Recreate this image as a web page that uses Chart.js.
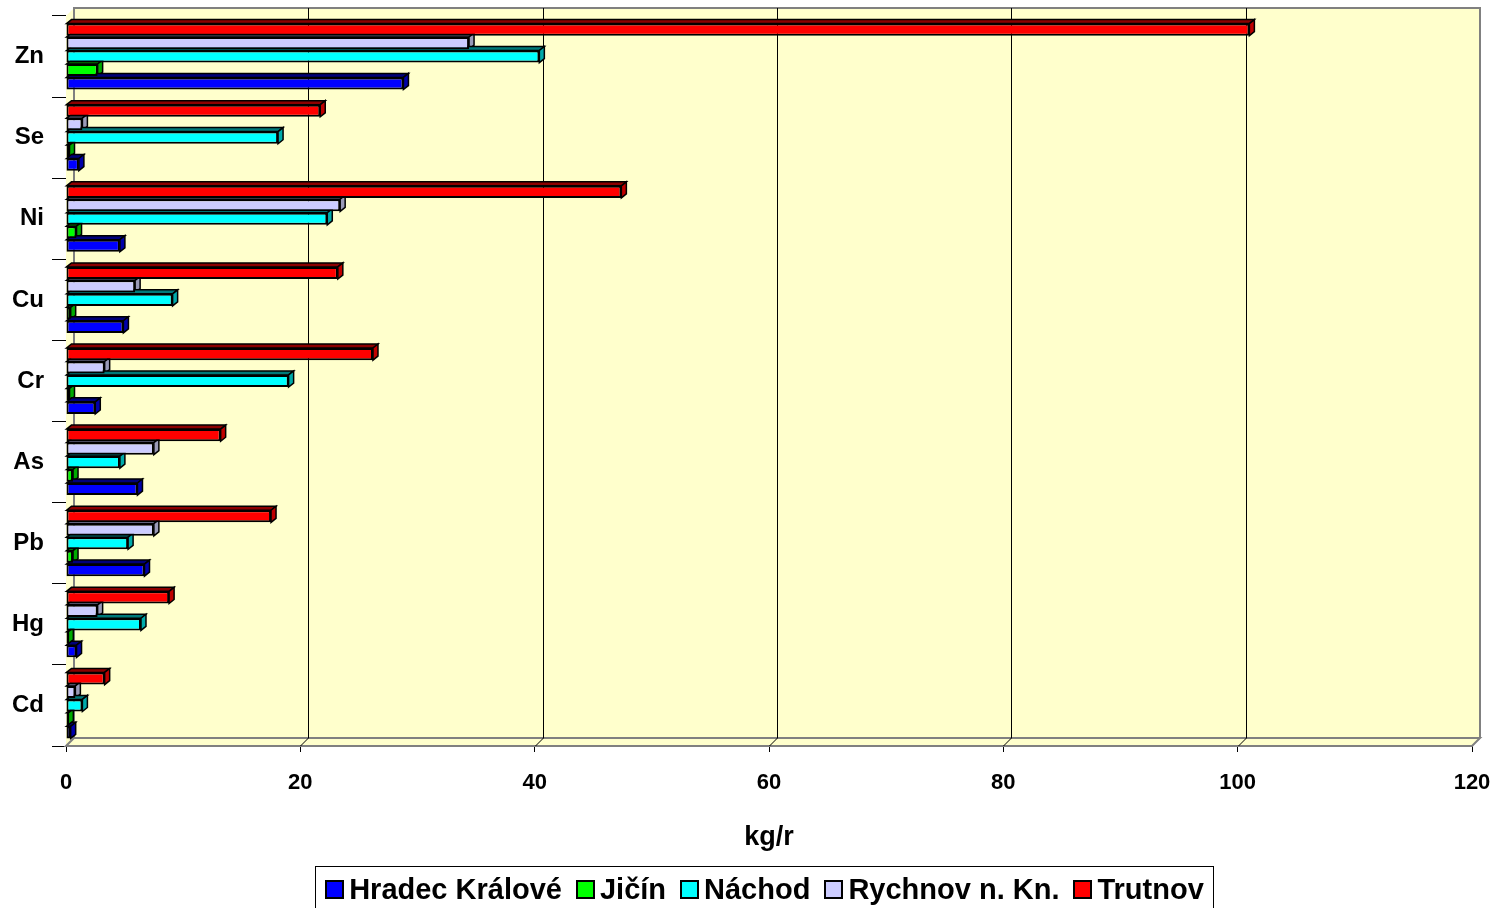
<!DOCTYPE html>
<html>
<head>
<meta charset="utf-8">
<script src="https://cdn.jsdelivr.net/npm/chart.js@4.4.1/dist/chart.umd.min.js"></script>
<style>
    html, body { margin: 0; padding: 0; background: #ffffff; }
    #wrap { position: relative; width: 1501px; height: 908px; overflow: hidden; }
    #legend {
        position: absolute; left: 315px; top: 866px; width: 899px; height: 60px;
        border: 1px solid #000; box-sizing: border-box;
        display: flex; justify-content: center; align-items: flex-start;
        padding-top: 7px;
        font-family: 'Liberation Sans', Arial, sans-serif; font-weight: bold; font-size: 29px;
        line-height: 30px; color: #000; white-space: nowrap;
    }
    #legend .item { display: flex; align-items: center; margin: 0 7px; }
    #legend .box { width: 15px; height: 15px; border: 2px solid #000; margin-right: 5px; }
</style>
</head>
<body>
<div id="wrap">
    <canvas id="metalsChart" width="1501" height="908"></canvas>
    <div id="legend"></div>
</div>
<script>
// categories top to bottom
const metals = ['Zn', 'Se', 'Ni', 'Cu', 'Cr', 'As', 'Pb', 'Hg', 'Cd'];

// kg/r per district
const hradecKralove = [28.8, 1.1, 4.6, 4.9, 2.5, 6.1, 6.7, 0.9, 0.4];
const jicin         = [2.7, 0.3, 0.9, 0.4, 0.3, 0.6, 0.6, 0.2, 0.2];
const nachod        = [40.4, 18.1, 22.3, 9.1, 19.0, 4.6, 5.3, 6.4, 1.4];
const rychnov       = [34.4, 1.4, 23.4, 5.9, 3.3, 7.5, 7.5, 2.7, 0.8];
const trutnov       = [101.0, 21.7, 47.4, 23.2, 26.2, 13.2, 17.5, 8.8, 3.3];

const xTicks = [0, 20, 40, 60, 80, 100, 120];

const FONT = "'Liberation Sans', Arial, sans-serif";
const DEPTH = 8;      // depth of the plot box
const BAR_DX = 5;     // 3d offset of each bar
const BAR_DY = 4;

// darker shades for the top and side faces of the bars
const shades = {
    '#ff0000': { top: '#8c0000', side: '#c00000' },
    '#ccccff': { top: '#6a6a88', side: '#9a9ab8' },
    '#00ffff': { top: '#007a7a', side: '#00aaaa' },
    '#00ff00': { top: '#007a00', side: '#00aa00' },
    '#0000ff': { top: '#00007a', side: '#0000aa' }
};

// yellow box with back wall, floor and gridlines
const plotBox = {
    id: 'plotBox',
    beforeDatasetsDraw(chart) {
        const { ctx, chartArea: a, scales } = chart;
        const d = DEPTH;
        ctx.save();
        ctx.fillStyle = '#ffffcc';
        ctx.strokeStyle = '#808080';
        ctx.lineWidth = 2;
        // back wall
        ctx.fillRect(a.left + d, a.top - d, a.right - a.left, a.bottom - a.top);
        // left wall
        ctx.beginPath();
        ctx.moveTo(a.left, a.top);
        ctx.lineTo(a.left + d, a.top - d);
        ctx.lineTo(a.left + d, a.bottom - d);
        ctx.lineTo(a.left, a.bottom);
        ctx.closePath();
        ctx.fill();
        // floor
        ctx.beginPath();
        ctx.moveTo(a.left, a.bottom);
        ctx.lineTo(a.left + d, a.bottom - d);
        ctx.lineTo(a.right + d, a.bottom - d);
        ctx.lineTo(a.right, a.bottom);
        ctx.closePath();
        ctx.fill();
        ctx.stroke();
        // back wall border
        ctx.beginPath();
        ctx.moveTo(a.left + d, a.bottom - d);
        ctx.lineTo(a.left + d, a.top - d);
        ctx.lineTo(a.right + d, a.top - d);
        ctx.lineTo(a.right + d, a.bottom - d);
        ctx.stroke();

        // gridlines on the back wall and floor
        ctx.strokeStyle = '#000000';
        ctx.lineWidth = 1;
        xTicks.forEach(v => {
            if (v === 0 || v === 120) return;
            const px = Math.round(scales.x.getPixelForValue(v)) + 0.5;
            ctx.beginPath();
            ctx.moveTo(px + d, a.top - d);
            ctx.lineTo(px + d, a.bottom - d);
            ctx.lineTo(px, a.bottom);
            ctx.stroke();
        });

        // 3d faces of the bars, drawn behind the front faces
        ctx.lineWidth = 1.5;
        ctx.strokeStyle = '#000000';
        chart.data.datasets.forEach((ds, i) => {
            const meta = chart.getDatasetMeta(i);
            const sh = shades[ds.backgroundColor];
            meta.data.forEach(bar => {
                const p = bar.getProps(['x', 'y', 'base', 'height'], true);
                const top = p.y - p.height / 2;
                const bottom = p.y + p.height / 2;
                // top face
                ctx.fillStyle = sh.top;
                ctx.beginPath();
                ctx.moveTo(p.base, top);
                ctx.lineTo(p.base + BAR_DX, top - BAR_DY);
                ctx.lineTo(p.x + BAR_DX, top - BAR_DY);
                ctx.lineTo(p.x, top);
                ctx.closePath();
                ctx.fill();
                ctx.stroke();
                // right face
                ctx.fillStyle = sh.side;
                ctx.beginPath();
                ctx.moveTo(p.x, top);
                ctx.lineTo(p.x + BAR_DX, top - BAR_DY);
                ctx.lineTo(p.x + BAR_DX, bottom - BAR_DY);
                ctx.lineTo(p.x, bottom);
                ctx.closePath();
                ctx.fill();
                ctx.stroke();
            });
        });
        ctx.restore();
    }
};

const ctx = document.getElementById('metalsChart').getContext('2d');
const metalsChart = new Chart(ctx, {
    type: 'bar',
    data: {
        labels: metals,
        datasets: [
            { label: 'Trutnov', data: trutnov, backgroundColor: '#ff0000' },
            { label: 'Rychnov n. Kn.', data: rychnov, backgroundColor: '#ccccff' },
            { label: 'Náchod', data: nachod, backgroundColor: '#00ffff' },
            { label: 'Jičín', data: jicin, backgroundColor: '#00ff00' },
            { label: 'Hradec Králové', data: hradecKralove, backgroundColor: '#0000ff' }
        ]
    },
    options: {
        indexAxis: 'y',
        responsive: false,
        animation: false,
        layout: {
            padding: { top: 16, right: 29, left: 0, bottom: 42 }
        },
        datasets: {
            bar: {
                borderColor: '#000000',
                borderWidth: 2,
                borderSkipped: false,
                categoryPercentage: 0.83,
                barPercentage: 0.9
            }
        },
        plugins: {
            legend: { display: false },
            tooltip: { enabled: false }
        },
        scales: {
            x: {
                type: 'linear',
                min: 0,
                max: 120,
                ticks: {
                    stepSize: 20,
                    color: '#000000',
                    padding: 18,
                    font: { family: FONT, size: 22, weight: 'bold' }
                },
                grid: {
                    drawOnChartArea: false,
                    color: '#000000',
                    tickLength: 6
                },
                border: { display: false },
                title: {
                    display: true,
                    text: 'kg/r',
                    color: '#000000',
                    font: { family: FONT, size: 27, weight: 'bold' },
                    padding: { top: 4, bottom: 12 }
                },
                afterFit: function(scale) {
                    scale.height = 120;
                    scale.paddingLeft = 0;
                    scale.paddingRight = 0;
                }
            },
            y: {
                ticks: {
                    color: '#000000',
                    padding: 8,
                    font: { family: FONT, size: 24, weight: 'bold' }
                },
                grid: {
                    drawOnChartArea: false,
                    color: '#000000',
                    tickLength: 14
                },
                border: { display: true, color: '#000000', width: 1 },
                afterFit: function(scale) {
                    scale.width = 66;
                    scale.paddingTop = 0;
                    scale.paddingBottom = 0;
                }
            }
        }
    },
    plugins: [plotBox]
});

// legend in the reference order (Hradec Králové first)
const legendEl = document.getElementById('legend');
metalsChart.data.datasets.slice().reverse().forEach(ds => {
    const item = document.createElement('span');
    item.className = 'item';
    const box = document.createElement('span');
    box.className = 'box';
    box.style.background = ds.backgroundColor;
    item.appendChild(box);
    item.appendChild(document.createTextNode(ds.label));
    legendEl.appendChild(item);
});
</script>
</body>
</html>
